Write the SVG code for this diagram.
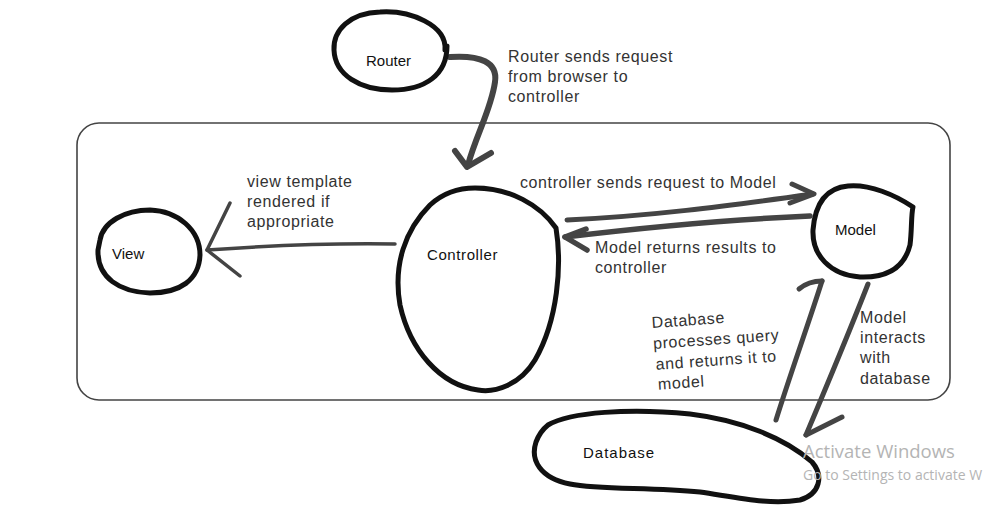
<svg xmlns="http://www.w3.org/2000/svg" width="983" height="508" viewBox="0 0 983 508">
<style>
.node{fill:none;stroke:#111;stroke-width:5;stroke-linecap:round;stroke-linejoin:round}
.conn{fill:none;stroke:#444;stroke-linecap:round;stroke-linejoin:round}
.lbl{font-family:"Liberation Sans",Arial,sans-serif;font-size:15px;fill:#111}
.note{font-family:"Liberation Sans",Arial,sans-serif;font-size:16px;fill:#333;letter-spacing:0.6px}
.wm{font-family:"Open Sans","Liberation Sans",sans-serif;fill:#b4b4b4}
</style>
<rect width="983" height="508" fill="#fff"/>
<g id="container">
<rect x="77" y="123" width="873" height="277" rx="22" ry="22" fill="none" stroke="#444" stroke-width="1.6"/>
</g>
<g id="connectors">
<g id="router-controller" class="conn" stroke-width="6">
<path d="M450,57 C480,55 498,62 495,82 C491,110 476,135 468,165"/>
<path d="M455,151 L467,167 L491,153"/>
</g>
<g id="controller-view" class="conn" stroke-width="3.5">
<path d="M395,244 C330,243 262,246 207,250"/>
<path d="M230,203 L207,250 L240,276"/>
</g>
<g id="controller-model" class="conn" stroke-width="5">
<path d="M567,220 C650,216 720,207 813,194"/>
<path d="M792,184 L814,194 L790,203"/>
</g>
<g id="model-controller" class="conn" stroke-width="5.5">
<path d="M810,216 C720,220 640,228 565,237"/>
<path d="M587,250 L565,237 L586,229"/>
</g>
<g id="database-model" class="conn" stroke-width="5">
<path d="M776,420 C790,375 808,325 822,281"/>
<path d="M799,289 C805,284 812,281 822,281"/>
</g>
<g id="model-database" class="conn" stroke-width="5">
<path d="M868,284 C850,330 825,390 806,435"/>
<path d="M806,435 L842,417"/>
</g>
</g>
<g id="router">
<path class="node" d="M445,50 C447,25 410,10 380,12 C350,13 333,30 334,50 C335,75 360,90 392,90 C425,90 447,75 447,46"/>
<text class="lbl" x="366" y="66">Router</text>
</g>
<g id="view">
<path class="node" d="M100,240 C103,222 125,210 150,210 C178,211 200,230 200,255 C199,280 180,293 150,293 C120,292 97,278 98,250 Z"/>
<text class="lbl" x="112" y="259">View</text>
</g>
<g id="controller">
<path class="node" d="M475,188 C510,188 540,205 556,228 C562,265 558,320 535,360 C520,385 495,393 478,390 C440,385 410,350 400,305 C393,265 405,230 430,205 C443,193 460,188 475,188 Z"/>
<text class="lbl" x="427" y="260" font-size="16" letter-spacing="0.6">Controller</text>
</g>
<g id="model">
<path class="node" d="M913,207 C895,195 870,184 848,186 C825,188 815,205 813,230 C812,255 830,275 860,277 C890,278 905,265 910,245 C912,230 911,215 913,207 Z"/>
<text class="lbl" x="835" y="235">Model</text>
</g>
<g id="database">
<path class="node" d="M548,425 C570,412 630,408 690,414 C740,420 785,438 812,462 C824,476 820,494 800,500 C770,505 740,498 700,492 C650,487 600,490 570,484 C540,478 530,460 536,442 C539,434 543,429 548,425 Z"/>
<text class="lbl" x="583" y="458" font-size="16" letter-spacing="1">Database</text>
</g>
<g id="notes">
<text class="note" x="508" y="62">Router sends request</text>
<text class="note" x="508" y="82">from browser to</text>
<text class="note" x="508" y="102">controller</text>
<text class="note" x="247" y="187">view template</text>
<text class="note" x="247" y="207">rendered if</text>
<text class="note" x="247" y="227">appropriate</text>
<text class="note" x="520" y="188">controller sends request to Model</text>
<text class="note" x="595" y="253">Model returns results to</text>
<text class="note" x="595" y="273">controller</text>
<g transform="rotate(-4 652 328)">
<text class="note" x="652" y="328">Database</text>
<text class="note" x="652" y="349">processes query</text>
<text class="note" x="653" y="370">and returns it to</text>
<text class="note" x="654" y="390">model</text>
</g>
<text class="note" x="860" y="323">Model</text>
<text class="note" x="860" y="343">interacts</text>
<text class="note" x="860" y="363">with</text>
<text class="note" x="860" y="384">database</text>
</g>
<g id="watermark">
<text class="wm" x="803" y="458" font-size="18.5">Activate Windows</text>
<text class="wm" x="803" y="480" font-size="14">Go to Settings to activate W</text>
</g>
</svg>
